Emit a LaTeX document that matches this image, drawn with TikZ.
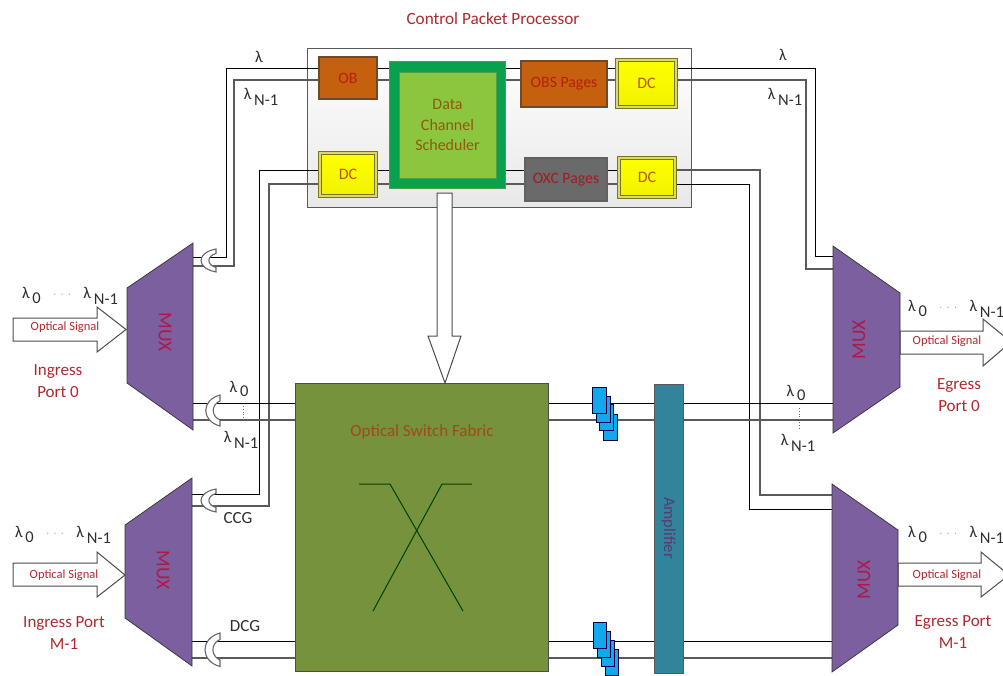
\documentclass[tikz,border=0pt]{standalone}
\usepackage{fontspec}
\setmainfont{Carlito}
\usetikzlibrary{backgrounds}
\definecolor{redtxt}{HTML}{B0282E}
\definecolor{boxred}{HTML}{B8200C}
\definecolor{brn}{HTML}{8F5A0C}
\definecolor{dctxt}{HTML}{B85A00}
\definecolor{muxp}{HTML}{7B5F9F}
\definecolor{muxt}{HTML}{B01848}
\definecolor{grayl}{HTML}{5A5A5A}
\definecolor{lamc}{HTML}{2E2E2E}
\definecolor{stackb}{HTML}{12A8EE}
\definecolor{obfill}{HTML}{C5600F}
\definecolor{obline}{HTML}{6E4A28}
\definecolor{dcline}{HTML}{77751F}
\definecolor{dcdbl}{HTML}{DDD86A}
\definecolor{dcsout}{HTML}{0AA14E}
\definecolor{dcsin}{HTML}{8CC63F}
\definecolor{dcsinl}{HTML}{4E9E48}
\definecolor{oxcfill}{HTML}{6A6A6A}
\definecolor{oxctxt}{HTML}{A01C20}
\definecolor{fabfill}{HTML}{76923C}
\definecolor{fabtxt}{HTML}{A04A14}
\definecolor{ampfill}{HTML}{31849B}
\definecolor{amptxt}{HTML}{5A3A70}
\newcommand\fs[1]{\fontsize{#1}{#1}\selectfont}
\newcommand\lzero{λ\raisebox{-.28em}{\,0}}
\newcommand\lnn{λ\raisebox{-.38em}{\,N-1}}
\newcommand\lrow{\lzero\hspace{12.5pt}{\color{gray}\fs{11}\raisebox{.1em}{$\cdot\,\cdot\,\cdot$}}\hspace{12.5pt}\lnn}
\newcommand\coupler[4]{%
  \begin{scope}[shift={(#1,#2)},xscale=#3,yscale=#4]
    \draw[couplerline] (0,0) .. controls (-20,5) and (-20,26) .. (0,31) -- (0,25)
      .. controls (-9.5,21) and (-9.5,10) .. (0,6) -- cycle;
  \end{scope}}
\tikzset{
  bx/.style 2 args={minimum width=#1pt,minimum height=#2pt,inner sep=0pt,outer sep=0pt,align=center},
  obbox/.style={draw=obline,line width=1.6pt,fill=obfill,text=boxred,font=\fs{15.8}},
  dcbox/.style={draw=dcline,double=dcdbl,double distance=1.4pt,line width=1pt,
    top color=yellow,bottom color=yellow!90!olive,text=dctxt,font=\fs{16}},
  oxcbox/.style={draw=black!62,line width=1.6pt,fill=oxcfill,text=oxctxt,font=\fs{15.8}},
  linea/.style={draw=black,line width=.9pt},
  lineb/.style={draw=grayl,line width=1.1pt},
  couplerline/.style={draw=black!60,line width=1.1pt,fill=white},
  hollow/.style={draw=black!70,line width=1pt,fill=white},
  muxshape/.style={fill=muxp,draw=black!80,line width=.7pt},
  muxtxt/.style={text=muxt,font=\fs{19.5},inner sep=0pt},
  redlab/.style={text=redtxt,font=\fs{17},inner sep=0pt,align=center},
  siglab/.style={text=redtxt,font=\fs{12.5},inner sep=0pt},
  lam/.style={text=lamc,font=\fs{16.5},inner sep=0pt},
  stk/.style={fill=stackb,draw=black!75!blue,line width=.8pt},
}
\begin{document}
\begin{tikzpicture}[x=1pt,y=-1pt]
\useasboundingbox (0,0) rectangle (1003,675);
% process boxes
\node[bx={58}{42},obbox] (ob) at (348,78) {OB};
\node[bx={116}{127},draw=dcsinl,line width=1pt,fill=dcsout] (dcs) at (447,124.5) {};
\node[bx={97}{106},draw=dcsinl,line width=.9pt,fill=dcsin,text=brn,font=\fs{16},
      align=center] (dcsin) at (447.5,125) {Data\\[4.5pt]Channel\\[4.5pt]Scheduler};
\node[bx={86}{46},obbox] (obs) at (564,84) {OBS Pages};
\node[bx={59}{47},dcbox] (dc1) at (646.5,83.5) {DC};
\node[bx={56}{43},dcbox] (dc2) at (348,174.5) {DC};
\node[bx={82}{43},oxcbox] (oxc) at (566,179.5) {OXC Pages};
\node[bx={56}{39},dcbox] (dc3) at (647,177.5) {DC};
\node[bx={253}{288},draw=black!70,line width=1pt,fill=fabfill] (fabric) at (421.5,527) {};
\node[bx={29}{289},draw=black!65,line width=1pt,fill=ampfill] (amp) at (668.5,528.5) {};
% MUX shapes
\coordinate (i0a) at (127,288); \coordinate (i0b) at (193,243); \coordinate (i0c) at (193,430); \coordinate (i0d) at (127,383);
\coordinate (i1a) at (125,525); \coordinate (i1b) at (192,478); \coordinate (i1c) at (192,666); \coordinate (i1d) at (125,618);
\coordinate (e0a) at (833,246); \coordinate (e0b) at (900,293); \coordinate (e0c) at (900,387); \coordinate (e0d) at (833,433);
\coordinate (e1a) at (832,484); \coordinate (e1b) at (898,530); \coordinate (e1c) at (898,625); \coordinate (e1d) at (832,672);
\draw[hollow] (13,318) -- (97,318) -- (97,307) -- (126,329.5) -- (97,352) -- (97,341) -- (13,341) -- cycle;
\draw[hollow] (13,563) -- (97,563) -- (97,552) -- (125,575) -- (97,597) -- (97,586) -- (13,586) -- cycle;
\draw[hollow] (900,331) -- (983,331) -- (983,319) -- (1011,342) -- (983,366) -- (983,354) -- (900,354) -- cycle;
\draw[hollow] (898,563) -- (981,563) -- (981,552) -- (1009,575) -- (981,597) -- (981,586) -- (898,586) -- cycle;
\draw[muxshape] (i0a) -- (i0b) -- (i0c) -- (i0d) -- cycle;
\draw[muxshape] (i1a) -- (i1b) -- (i1c) -- (i1d) -- cycle;
\draw[muxshape] (e0a) -- (e0b) -- (e0c) -- (e0d) -- cycle;
\draw[muxshape] (e1a) -- (e1b) -- (e1c) -- (e1d) -- cycle;
% scheduler to fabric arrow
\draw[hollow] (437,193) -- (452,193) -- (452,336) -- (461,336) -- (445,383) -- (428,336) -- (437,336) -- cycle;
% stacks
\foreach \x/\y in {603/414,599/404,596/396,592/387}{\draw[stk] (\x,\y) rectangle ++(14,26);}
\foreach \x/\y in {605/649,601/640,597/631,593/622}{\draw[stk] (\x,\y) rectangle ++(13,26);}
% couplers
\coupler{216}{249}{1}{.74}
\coupler{220}{395}{.95}{1}
\coupler{216}{489}{1}{.74}
\coupler{220}{633}{1}{1.08}
% fabric X
\draw[black!75!green,line width=1pt] (359,484) -- (390,484) -- (463,611);
\draw[black!75!green,line width=1pt] (472,484) -- (442,484) -- (373,611);
% connectors
\begin{scope}[on background layer]
\node[bx={384}{159},draw=black!65,line width=.9pt,top color=white,bottom color=black!9] (panel) at (499,127.5) {};
% top-left
\draw[linea] (193,257) -- (226.5,257) -- (226.5,68) -- (ob.west |- 0,68);
\draw[lineb] (193,266) -- (234,266) -- (234,80) -- (ob.west |- 0,80);
\draw[linea] (192,494) -- (259,494) -- (259,170) -- (dc2.west |- 0,170);
\draw[lineb] (192,506) -- (269,506) -- (269,184) -- (dc2.west |- 0,184);
% inside panel
\draw[linea] (ob.east |- 0,68) -- (dcs.west |- 0,68);
\draw[lineb] (ob.east |- 0,80) -- (dcs.west |- 0,80);
\draw[linea] (dcs.east |- 0,68) -- (obs.west |- 0,68);
\draw[lineb] (dcs.east |- 0,80) -- (obs.west |- 0,80);
\draw[linea] (obs.east |- 0,68) -- (dc1.west |- 0,68);
\draw[lineb] (obs.east |- 0,80) -- (dc1.west |- 0,80);
\draw[linea] (dc2.east |- 0,170) -- (dcs.west |- 0,170);
\draw[lineb] (dc2.east |- 0,184) -- (dcs.west |- 0,184);
\draw[linea] (dcs.east |- 0,170) -- (oxc.west |- 0,170);
\draw[lineb] (dcs.east |- 0,184) -- (oxc.west |- 0,184);
\draw[linea] (oxc.east |- 0,170) -- (dc3.west |- 0,170);
\draw[lineb] (oxc.east |- 0,184) -- (dc3.west |- 0,184);
% right
\draw[linea] (dc1.east |- 0,68) -- (815.5,68) -- (815.5,256) -- (833,256);
\draw[lineb] (dc1.east |- 0,80) -- (806,80) -- (806,269) -- (833,269);
\draw[lineb] (dc3.east |- 0,170) -- (760,170) -- (760,495) -- (832,495);
\draw[linea] (dc3.east |- 0,184) -- (749.5,184) -- (749.5,509) -- (832,509);
% data paths
\draw[linea] (193,403) -- (fabric.west |- 0,403);
\draw[lineb] (193,420) -- (fabric.west |- 0,420);
\draw[linea] (192,641) -- (fabric.west |- 0,641);
\draw[lineb] (192,658) -- (fabric.west |- 0,658);
\draw[linea] (fabric.east |- 0,403) -- (amp.west |- 0,403);
\draw[lineb] (fabric.east |- 0,420) -- (amp.west |- 0,420);
\draw[linea] (fabric.east |- 0,641) -- (amp.west |- 0,641);
\draw[lineb] (fabric.east |- 0,658) -- (amp.west |- 0,658);
\draw[linea] (amp.east |- 0,403) -- (833,403);
\draw[lineb] (amp.east |- 0,420) -- (833,420);
\draw[linea] (amp.east |- 0,641) -- (832,641);
\draw[lineb] (amp.east |- 0,658) -- (832,658);
\end{scope}
\draw[black!60,dotted,line width=.8pt] (243,406) -- (243,420);
\draw[black!60,dotted,line width=.8pt] (799,408) -- (799,430);
% labels
\node[text=redtxt,font=\fs{17.2},inner sep=0pt] (ttl) at (493,19) {Control Packet Processor};
\node[text=fabtxt,font=\fs{17},inner sep=0pt] (osf) at (422,432) {Optical Switch Fabric};
\node[muxtxt,rotate=-90] (mt1) at (165,332) {MUX};
\node[muxtxt,rotate=-90] (mt2) at (163,570) {MUX};
\node[muxtxt,rotate=90] (mt3) at (859,340) {MUX};
\node[muxtxt,rotate=90] (mt4) at (864,580) {MUX};
\node[rotate=-90,text=amptxt,font=\fs{16.5},inner sep=0pt] (ampt) at (668.5,528) {Amplifier};
\node[siglab] (s1) at (65,327) {Optical Signal};
\node[siglab] (s2) at (64,575) {Optical Signal};
\node[siglab] (s3) at (947,341) {Optical Signal};
\node[siglab] (s4) at (947,575) {Optical Signal};
\node[redlab] (p1) at (58,381) {Ingress\\[5pt]Port 0};
\node[redlab] (p2) at (64,633) {Ingress Port\\[5pt]M-1};
\node[redlab] (p3) at (959,395.5) {Egress\\[5pt]Port 0};
\node[redlab] (p4) at (953,632.5) {Egress Port\\[5pt]M-1};
\node[lam] (l1) at (259,57) {λ};
\node[lam] (l2) at (261,97) {\lnn};
\node[lam] (l3) at (783,55) {λ};
\node[lam] (l4) at (785,97) {\lnn};
\node[lam] (l5) at (239,389) {\lzero};
\node[lam] (l6) at (241,440) {\lnn};
\node[lam] (l7) at (796,393) {\lzero};
\node[lam] (l8) at (798,443) {\lnn};
\node[lam] (r1) at (70,296) {\lrow};
\node[lam] (r2) at (63,535) {\lrow};
\node[lam,anchor=west] (r3) at (908,309) {\lrow};
\node[lam,anchor=west] (r4) at (908,535) {\lrow};
\node[text=lamc,font=\fs{17},inner sep=0pt] (ccg) at (238,518) {CCG};
\node[text=lamc,font=\fs{17},inner sep=0pt] (dcg) at (245,626) {DCG};
\end{tikzpicture}
\end{document}
